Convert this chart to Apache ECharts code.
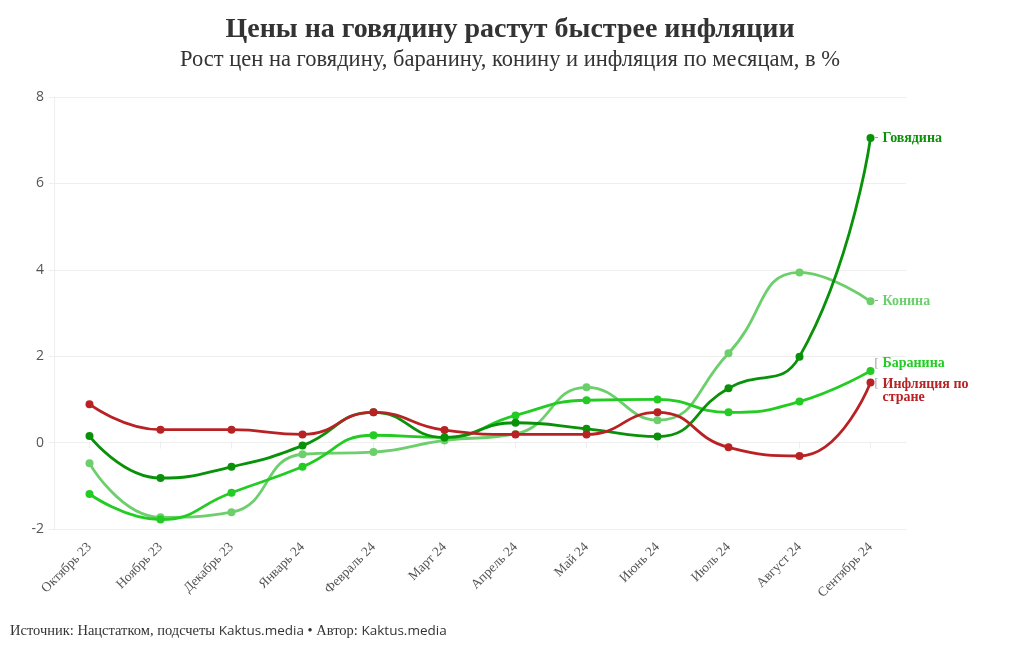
<!DOCTYPE html>
<html>
<head>
<meta charset="utf-8">
<script src="https://cdn.jsdelivr.net/npm/echarts@6/dist/echarts.min.js"></script>
<style>
html,body{margin:0;padding:0;background:#fff;}
#chart{width:1020px;height:650px;}
</style>
</head>
<body>
<div id="chart"></div>
<script>
const categories = ['Октябрь 23','Ноябрь 23','Декабрь 23','Январь 24','Февраль 24','Март 24','Апрель 24','Май 24','Июнь 24','Июль 24','Август 24','Сентябрь 24'];
const beef      = [0.15, -0.82, -0.56, -0.07, 0.70, 0.12, 0.46, 0.32, 0.14, 1.26, 1.99, 7.05];
const mutton    = [-1.19, -1.78, -1.16, -0.56, 0.17, 0.12, 0.63, 0.98, 1.00, 0.70, 0.95, 1.66];
const horse     = [-0.48, -1.73, -1.61, -0.27, -0.22, 0.05, 0.20, 1.28, 0.52, 2.07, 3.94, 3.27];
const inflation = [0.89, 0.30, 0.30, 0.19, 0.70, 0.29, 0.19, 0.19, 0.70, -0.11, -0.31, 1.39];
const yTicks = {min: -2, max: 8, interval: 2};

const serif = '"Liberation Serif", "DejaVu Serif", serif';
const sans = '"Open Sans", "Liberation Sans", sans-serif';

function mk(name, data, color, label, off, z) {
  return {
    name: name, type: 'line', data: data, smooth: 0.5, z: z,
    symbol: 'circle', symbolSize: 8,
    lineStyle: {color: color, width: 2.8},
    itemStyle: {color: color},
    endLabel: {
      show: true, formatter: label, offset: off, distance: 4,
      rich: {
        d: {color: '#999', fontFamily: serif, fontSize: 12, width: 8},
        n: {color: color, fontFamily: serif, fontSize: 14, fontWeight: 'bold', lineHeight: 13}
      }
    },
    emphasis: {disabled: true}
  };
}

const chart = echarts.init(document.getElementById('chart'));
chart.setOption({
  animation: false,
  title: {
    text: 'Цены на говядину растут быстрее инфляции',
    subtext: 'Рост цен на говядину, баранину, конину и инфляция по месяцам, в %',
    left: 'center', top: 11, itemGap: 5,
    textStyle: {fontFamily: serif, fontSize: 28, fontWeight: 'bold', color: '#333'},
    subtextStyle: {fontFamily: serif, fontSize: 22.5, color: '#333'}
  },
  grid: {left: 54, right: 114, top: 97, bottom: 121, containLabel: false},
  xAxis: {
    type: 'category', data: categories, boundaryGap: true,
    axisLine: {show: true, lineStyle: {color: '#eeeeee'}},
    axisTick: {show: true, alignWithLabel: true, length: 6, lineStyle: {color: '#eeeeee'}},
    axisLabel: {rotate: 45, interval: 0, fontFamily: serif, fontSize: 13.5, color: '#555', margin: 16}
  },
  yAxis: {
    type: 'value', min: yTicks.min, max: yTicks.max, interval: yTicks.interval,
    axisLine: {show: true, lineStyle: {color: '#eeeeee'}},
    axisTick: {show: true, length: 5, lineStyle: {color: '#eeeeee'}},
    splitLine: {lineStyle: {color: '#eeeeee'}},
    axisLabel: {fontFamily: sans, fontSize: 14, color: '#555', margin: 10}
  },
  series: [
    mk('Конина', horse, '#6ccf6c', '{d|-}{n|Конина}', [0, 0], 2),
    mk('Баранина', mutton, '#22cc22', '{d|[}{n|Баранина}', [0, -7], 3),
    mk('Говядина', beef, '#0a910a', '{d|-}{n|Говядина}', [0, 0], 4),
    mk('Инфляция', inflation, '#b82225', '{d|[}{n|Инфляция по}\n{d|}{n|стране}', [0, 8], 5)
  ],
  graphic: [{
    type: 'text', left: 10, top: 624,
    style: {
      text: '{a|Источник: Нацстатком, подсчеты }{b|Kaktus.media}{a| • Автор: }{b|Kaktus.media}',
      rich: {
        a: {fontFamily: serif, fontSize: 14.5, fill: '#333'},
        b: {fontFamily: sans, fontSize: 13.5, fill: '#333'}
      }
    }
  }]
});
</script>
</body>
</html>
